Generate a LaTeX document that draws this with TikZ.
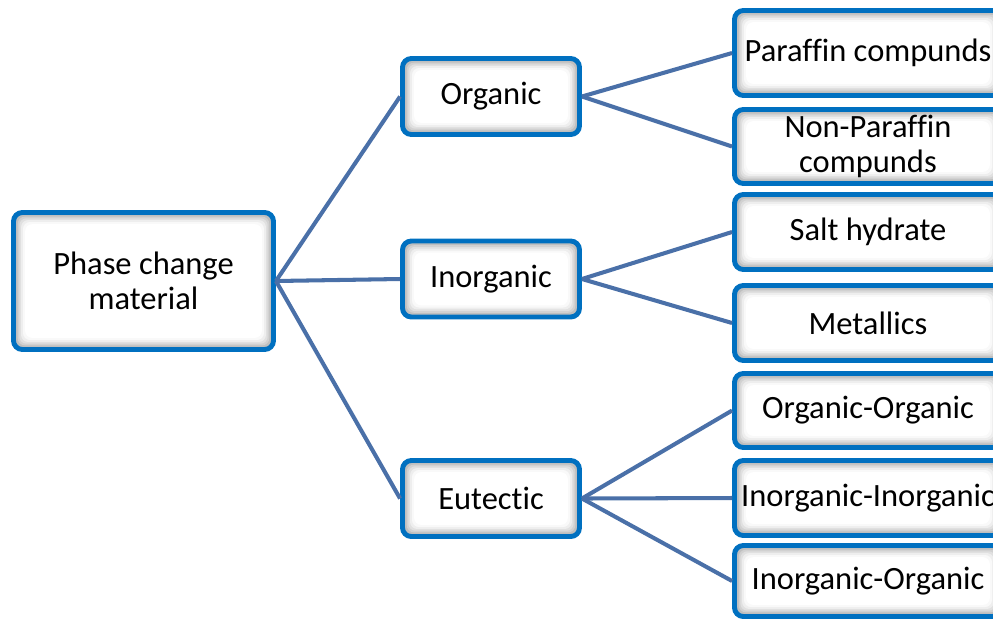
\documentclass[tikz,border=0pt]{standalone}
\usepackage{fontspec}
\setmainfont{Carlito}[Ligatures=NoCommon]
\definecolor{boxblue}{RGB}{0,112,192}
\definecolor{linkblue}{RGB}{74,112,168}
\tikzset{
  pcmbox/.style={draw=boxblue, line width=2.8pt, rounded corners=5pt, fill=white,
    align=center, inner sep=0pt, font=\fontsize{18.5}{20}\selectfont,
    path picture={
      \foreach \g/\d in {50/0pt, 36/2.4pt, 24/3.3pt, 13/4.3pt, 5/5.4pt, 0/6.6pt}
        \fill[gray!\g, rounded corners=4pt]
          ([shift={(\d,\d)}]path picture bounding box.south west) rectangle
          ([shift={(-\d,-\d)}]path picture bounding box.north east);
    }},
  leftbox/.style={pcmbox, minimum width=5.2cm, minimum height=2.74cm},
  midbox/.style={pcmbox, minimum width=3.54cm, minimum height=1.52cm},
  rightbox/.style={pcmbox, minimum width=5.34cm},
  link/.style={draw=linkblue, line width=2.3pt}
}
\begin{document}
\begin{tikzpicture}[x=0.02cm, y=-0.02cm]
  \useasboundingbox (0,0) rectangle (993,620);
  \clip (0,0) rectangle (993,620);

  \node [leftbox] (pcm) at (143.5,281) {Phase change\\material};

  \node [midbox] (organic)   at (491,96.5) {Organic};
  \node [midbox] (inorganic) at (491,279)  {Inorganic};
  \node [midbox] (eutectic)  at (491,498.5) {Eutectic};

  \node [rightbox, minimum height=1.7cm]  (paraffin)    at (868,53)    {Paraffin compunds};
  \node [rightbox, minimum height=1.48cm] (nonparaffin) at (868,146.5) {Non-Paraffin\\compunds};
  \node [rightbox, minimum height=1.5cm]  (salt)        at (868,232)   {Salt hydrate};
  \node [rightbox, minimum height=1.5cm]  (metallics)   at (868,323)   {Metallics};
  \node [rightbox, minimum height=1.48cm] (orgorg)      at (868,410.5) {Organic-Organic};
  \node [rightbox, minimum height=1.5cm]  (inoinorg)    at (868,498)   {Inorganic-Inorganic};
  \node [rightbox, minimum height=1.42cm] (inoorg)      at (868,581)   {Inorganic-Organic};

  \draw [link] (pcm.east) -- (organic.west);
  \draw [link] (pcm.east) -- (inorganic.west);
  \draw [link] (pcm.east) -- (eutectic.west);

  \draw [link] (organic.east) -- (paraffin.west);
  \draw [link] (organic.east) -- (nonparaffin.west);
  \draw [link] (inorganic.east) -- (salt.west);
  \draw [link] (inorganic.east) -- (metallics.west);
  \draw [link] (eutectic.east) -- (orgorg.west);
  \draw [link] (eutectic.east) -- (inoinorg.west);
  \draw [link] (eutectic.east) -- (inoorg.west);
\end{tikzpicture}
\end{document}
